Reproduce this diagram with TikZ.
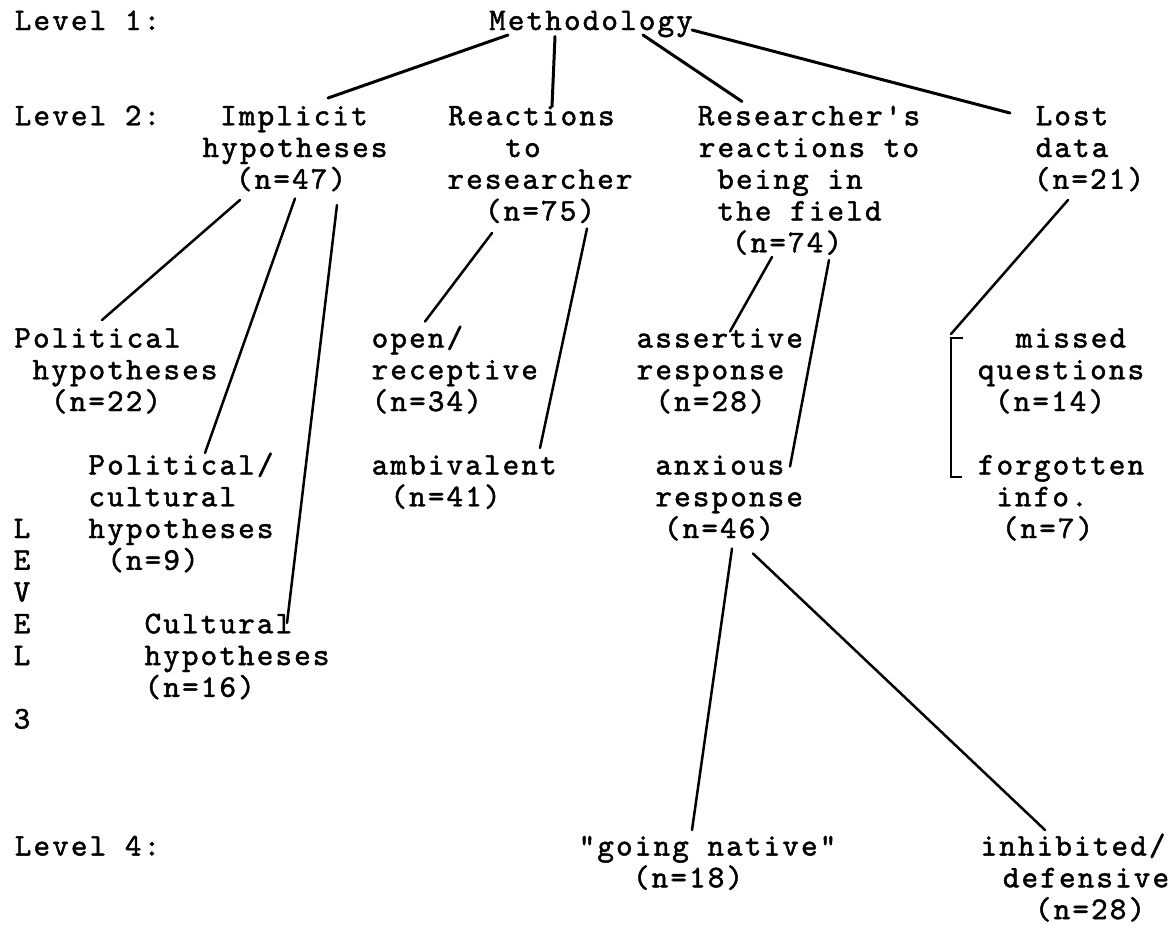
\documentclass[tikz,border=0pt]{standalone}
\usepackage{fontspec}
\newfontface\twface{lmmono10-regular.otf}[FakeBold=1.5, LetterSpace=6.9]
\newcommand\twfont{\fontsize{31.5pt}{31.75pt}\selectfont\twface}
\tikzset{
  txt/.style={inner sep=0pt, outer sep=0pt, anchor=base, font=\twfont},
  link/.style={line width=3pt, line cap=round, black},
  sublink/.style={line width=2.5pt, line cap=round, black}
}
\begin{document}
\begin{tikzpicture}[x=1pt,y=-1pt]
\path[use as bounding box, fill=white] (0,0) rectangle (1169,927);

% Level labels
\node[txt] (lv1) at (87.5,30) {Level 1:};
\node[txt] (lv2) at (87.5,125.25) {Level 2:};
\node[txt] (lv4) at (87.5,855.5) {Level 4:};
\node[txt] (lv3a) at (22,538) {L};
\node[txt] (lv3b) at (22,569.75) {E};
\node[txt] (lv3c) at (22,601.5) {V};
\node[txt] (lv3d) at (22,633.25) {E};
\node[txt] (lv3e) at (22,665) {L};
\node[txt] (lv3f) at (22,728.5) {3};

% Level 1
\node[txt] (meth) at (591,30) {Methodology};

% Level 2
\node[txt] (impA) at (294,125.25) {Implicit};
\node[txt] (impB) at (295,157) {hypotheses};
\node[txt] (impC) at (291,188.75) {(n=47)};

\node[txt] (reaA) at (531.5,125.25) {Reactions};
\node[txt] (reaB) at (523,157) {to};
\node[txt] (reaC) at (540,188.75) {researcher};
\node[txt] (reaD) at (540,220.5) {(n=75)};

\node[txt] (resA) at (809,125.25) {Researcher's};
\node[txt] (resB) at (809,157) {reactions to};
\node[txt] (resC) at (790,188.75) {being in};
\node[txt] (resD) at (799.5,220.5) {the field};
\node[txt] (resE) at (787,252.25) {(n=74)};

\node[txt] (lostA) at (1072,125.25) {Lost};
\node[txt] (lostB) at (1072,157) {data};
\node[txt] (lostC) at (1089,188.75) {(n=21)};

% Level 3
\node[txt] (polA) at (97.5,347.5) {Political};
\node[txt] (polB) at (125,379.25) {hypotheses};
\node[txt] (polC) at (106,411) {(n=22)};

\node[txt] (pcA) at (181,474.5) {Political/};
\node[txt] (pcB) at (162.3,506.25) {cultural};
\node[txt] (pcC) at (181,538) {hypotheses};
\node[txt] (pcD) at (153,569.75) {(n=9)};

\node[txt] (culA) at (218.4,633.25) {Cultural};
\node[txt] (culB) at (237,665) {hypotheses};
\node[txt] (culC) at (199.7,696.75) {(n=16)};

\node[txt] (opA) at (417.4,347.5) {open/};
\node[txt] (opB) at (454.8,379.25) {receptive};
\node[txt] (opC) at (426.8,411) {(n=34)};

\node[txt] (ambA) at (464.2,474.5) {ambivalent};
\node[txt] (ambB) at (445.5,506.25) {(n=41)};

\node[txt] (asA) at (719.8,347.5) {assertive};
\node[txt] (asB) at (710.5,379.25) {response};
\node[txt] (asC) at (710.5,411) {(n=28)};

\node[txt] (axA) at (719.8,474.5) {anxious};
\node[txt] (axB) at (729.2,506.25) {response};
\node[txt] (axC) at (719,538) {(n=46)};

\node[txt] (msA) at (1071,347.5) {missed};
\node[txt] (msB) at (1061,379.25) {questions};
\node[txt] (msC) at (1050,411) {(n=14)};

\node[txt] (fgA) at (1061,474.5) {forgotten};
\node[txt] (fgB) at (1042,506.25) {info.};
\node[txt] (fgC) at (1047.5,538) {(n=7)};

% Level 4
\node[txt] (gnA) at (707.5,855.5) {"going native"};
\node[txt] (gnB) at (688,887.25) {(n=18)};

\node[txt] (inA) at (1073,855.5) {inhibited/};
\node[txt] (inB) at (1086,887.25) {defensive};
\node[txt] (inC) at (1090,919) {(n=28)};

% connector end points
\coordinate (m1) at (508,35);    \coordinate (i1) at (328,98);
\coordinate (m2) at (555,36.5);  \coordinate (r1) at (552,106.5);
\coordinate (m3) at (643,35);    \coordinate (s1) at (742,101.5);
\coordinate (m4) at (692,30);    \coordinate (l1) at (1010,113);

\coordinate (i2) at (240,200);   \coordinate (p1) at (102,320);
\coordinate (i3) at (295,198.5); \coordinate (p2) at (205,453);
\coordinate (i4) at (337,205);   \coordinate (c1) at (287,623);

\coordinate (r2) at (492,233);   \coordinate (o1) at (425,321.5);
\coordinate (r3) at (587,228.5); \coordinate (a1) at (540,448);

\coordinate (s2) at (772,257);   \coordinate (as1) at (730,331.5);
\coordinate (s3) at (829,260);   \coordinate (ax1) at (790,466.5);

\coordinate (l2) at (1068,200);  \coordinate (bt) at (951,334);
\coordinate (bt1) at (951,338);  \coordinate (bt2) at (963,338);
\coordinate (bb1) at (951,477);  \coordinate (bb2) at (962,477);

\coordinate (x1) at (732,548.5); \coordinate (g1) at (692,830);
\coordinate (x2) at (753,553.5); \coordinate (h1) at (1045,830);

% connectors
\draw[link] (m1) -- (i1);
\draw[link] (m2) -- (r1);
\draw[link] (m3) -- (s1);
\draw[link] (m4) -- (l1);

\draw[sublink] (i2) -- (p1);
\draw[sublink] (i3) -- (p2);
\draw[sublink] (i4) -- (c1);
\draw[sublink] (r2) -- (o1);
\draw[sublink] (r3) -- (a1);
\draw[sublink] (s2) -- (as1);
\draw[sublink] (s3) -- (ax1);
\draw[sublink] (l2) -- (bt);
\draw[sublink, line cap=butt] (bt2) -- (bt1) -- (bb1) -- (bb2);
\draw[sublink] (x1) -- (g1);
\draw[sublink] (x2) -- (h1);
\end{tikzpicture}
\end{document}
